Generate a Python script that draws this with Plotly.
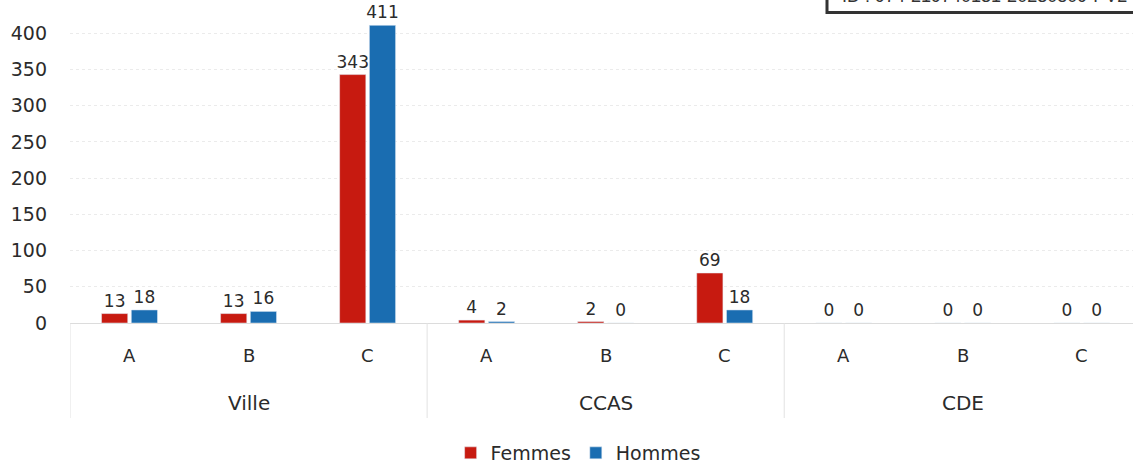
import plotly.graph_objects as go

# Structures and categories
structures = ["Ville", "Ville", "Ville", "CCAS", "CCAS", "CCAS", "CDE", "CDE", "CDE"]
categories = ["A", "B", "C", "A", "B", "C", "A", "B", "C"]
groups = ["Ville", "CCAS", "CDE"]

# Headcounts per structure/category
femmes = [13, 13, 343, 4, 2, 69, 0, 0, 0]
hommes = [18, 16, 411, 2, 0, 18, 0, 0, 0]

y_ticks = [0, 50, 100, 150, 200, 250, 300, 350, 400]
stamp_text = "ID : 974-219740131-20230809-PV2"

RED = "#c71a10"
BLUE = "#1a6db1"
FONT = "DejaVu Sans, Verdana, sans-serif"
TXT = "#2b2b2b"
DIV = "#e2e2e2"

x = [structures, categories]

fig = go.Figure()
fig.add_trace(go.Bar(
    name="Femmes", x=x, y=femmes, marker_color=RED,
    text=[str(v) for v in femmes], textposition="outside", constraintext="none",
    textfont=dict(size=17, color=TXT, family=FONT), cliponaxis=False,
))
fig.add_trace(go.Bar(
    name="Hommes", x=x, y=hommes, marker_color=BLUE,
    text=[str(v) for v in hommes], textposition="outside", constraintext="none",
    textfont=dict(size=17, color=TXT, family=FONT), cliponaxis=False,
))

PLOT_H = 323  # pixel height of the plotting area
H = 465


def py(pixel_y):
    """Paper y coordinate for a pixel row measured from the top of the page."""
    return (PLOT_H - pixel_y) / PLOT_H


fig.update_layout(
    width=1133, height=H,
    margin=dict(l=70, r=0, t=0, b=H - PLOT_H),
    paper_bgcolor="white", plot_bgcolor="white",
    barmode="group", bargap=0.5, bargroupgap=0.12,
    font=dict(family=FONT, size=17, color=TXT),
    showlegend=True,
    legend=dict(
        orientation="h", x=0.478, xanchor="center",
        yref="container", y=(H - 453) / H, yanchor="middle",
        font=dict(size=19, color=TXT, family=FONT),
        itemwidth=30, traceorder="normal",
    ),
    xaxis=dict(
        type="multicategory",
        range=[-0.5, 8.43],
        showticklabels=False, showdividers=False,
        showline=True, linecolor="#dcdcdc", linewidth=1,
        ticks="", showgrid=False, automargin=False,
    ),
    yaxis=dict(
        range=[0, 446],
        tickvals=y_ticks,
        tickfont=dict(size=19, color=TXT, family=FONT),
        showgrid=True, gridcolor="#ebebeb", gridwidth=1, griddash="dot",
        zeroline=True, zerolinecolor="#dcdcdc", zerolinewidth=1,
        ticks="", ticklabelstandoff=22, automargin=False,
    ),
)

# Two-level category labels under the axis
for i, cat in enumerate(categories):
    fig.add_annotation(
        xref="x", yref="paper", x=i, y=py(355), yanchor="middle",
        text=cat, showarrow=False,
        font=dict(size=18, color=TXT, family=FONT),
    )
for g, name in enumerate(groups):
    fig.add_annotation(
        xref="x", yref="paper", x=3 * g + 1, y=py(403), yanchor="middle",
        text=name, showarrow=False,
        font=dict(size=20, color=TXT, family=FONT),
    )

# Group dividers
for xb in [-0.5, 2.5, 5.5]:
    fig.add_shape(
        type="line", xref="x", yref="paper",
        x0=xb, x1=xb, y0=0, y1=py(418),
        line=dict(color=DIV, width=1),
    )

# Registration stamp at the top-right corner
fig.add_shape(
    type="rect", xref="paper", yref="paper",
    x0=(827 - 70) / 1063, x1=1.1,
    y0=py(12.5), y1=1.2,
    line=dict(color="#333333", width=3), fillcolor="white", layer="above",
)
fig.add_annotation(
    xref="paper", yref="paper",
    x=(840 - 70) / 1063, xanchor="left",
    y=py(8), yanchor="bottom",
    text=stamp_text, showarrow=False,
    font=dict(size=18, color="#333333", family="Liberation Sans, Arial, sans-serif"),
)

fig.write_html("out.html")
